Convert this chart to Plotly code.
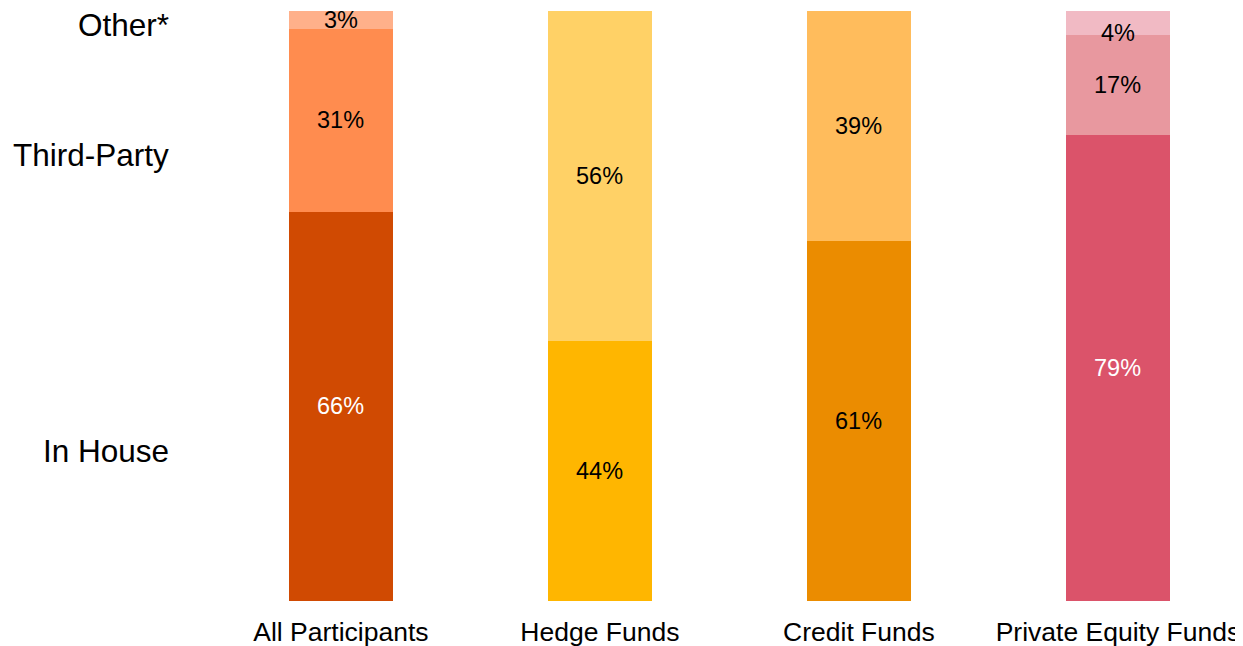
import plotly.graph_objects as go

categories = ["All Participants", "Hedge Funds", "Credit Funds", "Private Equity Funds"]
in_house = [66, 44, 61, 79]
third_party = [31, 56, 39, 17]
other = [3, 0, 0, 4]

row_labels = ["In House", "Third-Party", "Other*"]

colors_in = ["#D04A02", "#FFB600", "#EB8C00", "#DB536A"]
colors_tp = ["#FF8C4F", "#FFD166", "#FFBC5C", "#E8989F"]
colors_ot = ["#FFB08A", "#FFE4A0", "#FFD9A0", "#F1BAC4"]
text_in = ["white", "black", "black", "white"]

FONT = "Liberation Sans, Arial, sans-serif"

fig = go.Figure()
for vals, cols in [(in_house, colors_in), (third_party, colors_tp), (other, colors_ot)]:
    fig.add_trace(go.Bar(x=categories, y=vals, marker=dict(color=cols, line=dict(width=0)),
                         width=0.4, hoverinfo="skip", showlegend=False))

annotations = []
for i, c in enumerate(categories):
    base = 0
    for k, vals in enumerate([in_house, third_party, other]):
        v = vals[i]
        if v > 0:
            ys = -10 if (k == 2 and i == 3) else 0
            annotations.append(dict(x=c, y=base + v / 2, xref="x", yref="y", text=f"{v}%",
                                    showarrow=False, yshift=ys,
                                    font=dict(family=FONT, size=23.5,
                                              color=text_in[i] if k == 0 else "black")))
        base += v

row_y = [25.4, 75.6, 97.6]
for lab, y in zip(row_labels, row_y):
    annotations.append(dict(x=-0.0278, y=y, xref="paper", yref="y", text=lab, showarrow=False,
                            xanchor="right", font=dict(family=FONT, size=31.5, color="black")))

fig.update_layout(
    width=1235, height=638,
    margin=dict(l=192, r=0, t=3, b=45),
    paper_bgcolor="white", plot_bgcolor="white",
    barmode="stack", bargap=0,
    annotations=annotations,
    xaxis=dict(range=[-0.544, 3.483], showgrid=False, zeroline=False, showline=False,
               ticks="", tickfont=dict(family=FONT, size=26.5, color="black"),
               ticklabelstandoff=12),
    yaxis=dict(range=[0, 100], visible=False, showgrid=False, zeroline=False),
)

fig.write_html("out.html")
